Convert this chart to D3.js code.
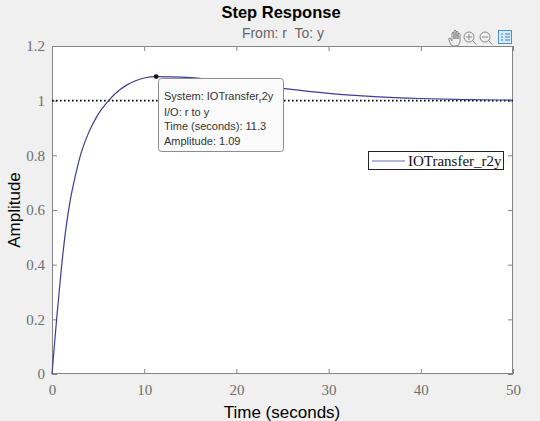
<!DOCTYPE html>
<html><head><meta charset="utf-8">
<script src="https://cdn.jsdelivr.net/npm/d3@7"></script>
<style>body{margin:0;background:#f0f0f0;overflow:hidden}</style>
</head><body>
<svg id="c" width="540" height="421"></svg>
<script>
const timeValues = [0,0.25,0.5,0.75,1,1.5,2,2.5,3,4,5,6,7,8,9,10,11.3,13,15,18,21,25,30,35,40,45,50];
const ampValues  = [0,0.10,0.20,0.29,0.38,0.53,0.64,0.72,0.79,0.885,0.95,0.995,1.03,1.055,1.072,1.083,1.088,1.087,1.084,1.074,1.062,1.045,1.027,1.015,1.008,1.004,1.002];
const xTicks = [0,10,20,30,40,50];
const yTicks = [0,0.2,0.4,0.6,0.8,1,1.2];
const yTickLabels = ["0","0.2","0.4","0.6","0.8","1","1.2"];
const steadyState = 1;
const peakTime = 11.3, peakAmp = 1.088;
const tipLines = ["I/O: r to y","Time (seconds): 11.3","Amplitude: 1.09"];
const seriesName = "IOTransfer_r2y";

const svg = d3.select("#c");
const L=52, R=513, T=46, B=374;
const x = d3.scaleLinear().domain([0,50]).range([L,R]);
const y = d3.scaleLinear().domain([0,1.2]).range([B,T]);
const axisCol="#858585", labCol="#6e6e6e";

svg.append("rect").attr("x",L).attr("y",T).attr("width",R-L).attr("height",B-T).attr("fill","#fff");

const axB = d3.axisBottom(x).tickValues(xTicks).tickSize(-5).tickPadding(10).tickFormat(d3.format("d"));
const axT = d3.axisTop(x).tickValues(xTicks).tickSize(-5).tickFormat("");
const axL = d3.axisLeft(y).tickValues(yTicks).tickSize(-5).tickPadding(7).tickFormat((d,i)=>yTickLabels[i]);
const axR = d3.axisRight(y).tickValues(yTicks).tickSize(-5).tickFormat("");
function style(g){g.selectAll("path,line").attr("stroke",axisCol);g.selectAll("text").attr("fill",labCol).style("font-family","'Liberation Serif','DejaVu Serif',serif").style("font-size","15px");}
svg.append("g").attr("transform",`translate(0,${B})`).call(axB).call(style).call(g=>g.select(".domain").remove());
svg.append("g").attr("transform",`translate(0,${T})`).call(axT).call(style).call(g=>g.select(".domain").remove());
svg.append("g").attr("transform",`translate(${L},0)`).call(axL).call(style).call(g=>g.select(".domain").remove());
svg.append("g").attr("transform",`translate(${R},0)`).call(axR).call(style).call(g=>g.select(".domain").remove());
svg.append("rect").attr("x",L+0.5).attr("y",T+0.5).attr("width",R-L-1).attr("height",B-T-1).attr("fill","none").attr("stroke",axisCol);

svg.append("line").attr("x1",x(0)).attr("x2",x(50)).attr("y1",y(steadyState)).attr("y2",y(steadyState))
  .attr("stroke","#000").attr("stroke-width",1.6).attr("stroke-dasharray","1.6,2.4");

const data = timeValues.map((t,i)=>[t,ampValues[i]]);
svg.append("path").datum(data).attr("fill","none").attr("stroke","#3d3d98").attr("stroke-width",1.2)
  .attr("d",d3.line().x(d=>x(d[0])).y(d=>y(d[1])).curve(d3.curveMonotoneX));

const lg = svg.append("g");
lg.append("rect").attr("x",368.5).attr("y",151.5).attr("width",135).attr("height",18).attr("fill","#fff").attr("stroke","#222").attr("stroke-width",1);
lg.append("line").attr("x1",372).attr("x2",405).attr("y1",161).attr("y2",161).attr("stroke","#6a6ac4").attr("stroke-width",1.2);
lg.append("text").attr("x",408).attr("y",166).text(seriesName).attr("fill","#111")
  .style("font-family","'Liberation Serif','DejaVu Serif',serif").style("font-size","15px");

const px=x(peakTime), py=y(peakAmp);
svg.append("rect").attr("x",158.5).attr("y",78.5).attr("width",125).attr("height",73).attr("rx",3)
  .attr("fill","#fbfbfb").attr("stroke","#8c8c8c").attr("stroke-width",1);
svg.append("circle").attr("cx",px).attr("cy",py).attr("r",2.4).attr("fill","#111");
const tf="'Liberation Sans',Arial,sans-serif";
const t0 = svg.append("text").attr("x",164).attr("y",100).attr("fill","#333").style("font-family",tf).style("font-size","11px");
t0.append("tspan").text("System: IOTransfer");
t0.append("tspan").text("r").attr("dy",3).style("font-size","8px");
t0.append("tspan").text("2y").attr("dy",-3);
tipLines.forEach((s,i)=>svg.append("text").attr("x",164).attr("y",115.5+i*14.5).attr("fill","#333").style("font-family",tf).style("font-size","11px").text(s));

svg.append("text").attr("x",281).attr("y",18).attr("text-anchor","middle").attr("fill","#000")
  .style("font-family",tf).style("font-weight","bold").style("font-size","16.5px").text("Step Response");
svg.append("text").attr("x",283).attr("y",38).attr("text-anchor","middle").attr("fill","#666")
  .style("font-family",tf).style("font-size","14px").style("white-space","pre").text("From: r  To: y");
svg.append("text").attr("x",282).attr("y",418).attr("text-anchor","middle").attr("fill","#000")
  .style("font-family",tf).style("font-size","17px").text("Time (seconds)");
svg.append("text").attr("transform","translate(20,210) rotate(-90)").attr("text-anchor","middle").attr("fill","#000")
  .style("font-family",tf).style("font-size","17px").text("Amplitude");

const ic = svg.append("g").attr("fill","none").attr("stroke","#8a8a8a").attr("stroke-width",1);
ic.append("path").attr("d","M451,45 L449,40 Q448,38 450,38 L452,41 L452,33 Q453,31 454,33 L454,39 L454,31 Q455,29 456,31 L456,39 L456,32 Q457,30 458,32 L458,39 L458,34 Q459,32 460,34 L460,42 Q459,46 456,46 L453,46 Z");
ic.append("circle").attr("cx",469).attr("cy",37).attr("r",5);
ic.append("line").attr("x1",472.5).attr("y1",40.5).attr("x2",476).attr("y2",44.5);
ic.append("path").attr("d","M466,37 H472 M469,34 V40");
ic.append("circle").attr("cx",485).attr("cy",37).attr("r",5);
ic.append("line").attr("x1",488.5).attr("y1",40.5).attr("x2",492).attr("y2",44.5);
ic.append("path").attr("d","M482,37 H488");
svg.append("rect").attr("x",498.5).attr("y",30.5).attr("width",13).attr("height",13).attr("fill","#d8ecf8").attr("stroke","#4a90c8");
svg.append("path").attr("d","M501,34 H503 M505,34 H510 M501,37 H503 M505,37 H510 M501,40 H503 M505,40 H510").attr("stroke","#3a7fc0").attr("stroke-width",1);
</script>
</body></html>
